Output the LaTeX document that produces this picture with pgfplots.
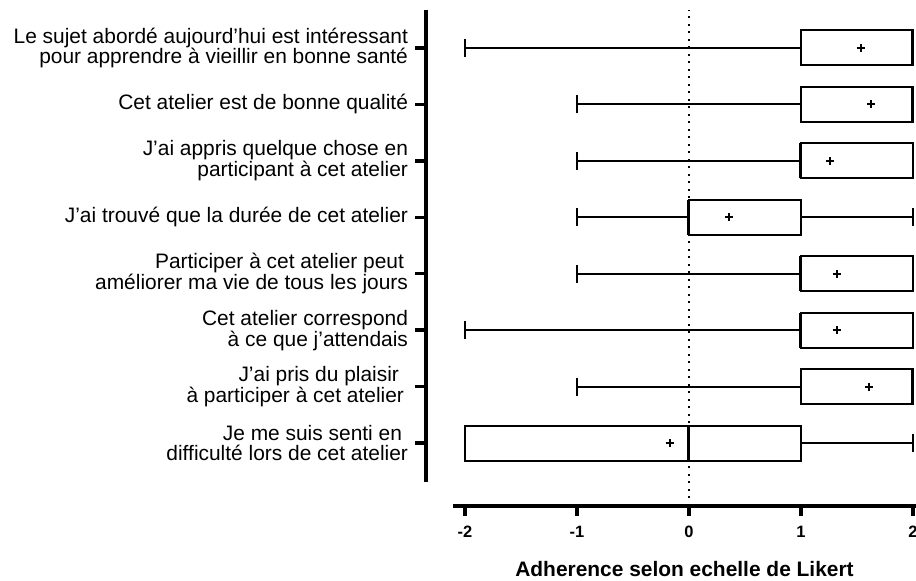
\documentclass[border=0pt]{standalone}
\usepackage{fontspec}
\setmainfont{Liberation Sans}
\usepackage{pgfplots}
\pgfplotsset{compat=1.18}
\usepgfplotslibrary{statistics}

\begin{document}
\begin{tikzpicture}
\begin{axis}[
  scale only axis, width=490bp, height=496bp,
  xmin=-2.348, xmax=2.027, ymin=-0.116, ymax=8.673,
  clip=false,
  axis line style={draw=none},
  tick pos=left,
  tick align=outside,
  major tick length=10.5bp,
  tick style={black, line width=3.5bp},
  xtick={-2,-1,0,1,2},
  xticklabels={-2,-1,0,1,2},
  xticklabel style={font=\bfseries\fontsize{16.5}{16.5}\selectfont, yshift=-6bp},
  ytick={1,2,3,4,5,6,7,8},
  yticklabels={
    {Je me suis senti en\hspace*{6bp}\\difficulté lors de cet atelier},
    {J’ai pris du plaisir\hspace*{9bp}\\à participer à cet atelier\hspace*{4bp}},
    {Cet atelier correspond\\à ce que j’attendais},
    {Participer à cet atelier peut\hspace*{4bp}\\améliorer ma vie de tous les jours},
    {J’ai trouvé que la durée de cet atelier},
    {J’ai appris quelque chose en\\participant à cet atelier},
    {Cet atelier est de bonne qualité},
    {Le sujet abordé aujourd’hui est intéressant\\pour apprendre à vieillir en bonne santé}},
  yticklabel style={align=right, font=\fontsize{21}{21}\selectfont, xshift=-4bp},
  xlabel={Adherence selon echelle de Likert},
  xlabel style={font=\bfseries\fontsize{21}{21}\selectfont,
    at={(axis description cs:0.5276,0)}, anchor=base, yshift=-71bp},
  boxplot/draw direction=x,
  boxplot/box extend=0.62,
  boxplot/whisker extend=0.32,
  boxplot/every median/.style={line width=3bp},
  box/.style={draw=black, fill=white, line width=2bp, solid, mark=none},
]
\coordinate (ll) at (rel axis cs:0,0);
\coordinate (ur) at (rel axis cs:1,1);

% reference line at zero
\addplot[black, line width=2bp, dash pattern=on 2bp off 5.5bp]
  coordinates {(0,-0.116) (0,8.673)};

% one box per statement (top row = position 8)
\addplot[box, boxplot prepared={lower whisker=-2, lower quartile=1,
  median=2, upper quartile=2, upper whisker=2, draw position=8}] coordinates {};
\addplot[box, boxplot prepared={lower whisker=-1, lower quartile=1,
  median=2, upper quartile=2, upper whisker=2, draw position=7}] coordinates {};
\addplot[box, boxplot prepared={lower whisker=-1, lower quartile=1,
  median=1, upper quartile=2, upper whisker=2, draw position=6}] coordinates {};
\addplot[box, boxplot prepared={lower whisker=-1, lower quartile=0,
  median=0, upper quartile=1, upper whisker=2, draw position=5}] coordinates {};
\addplot[box, boxplot prepared={lower whisker=-1, lower quartile=1,
  median=1, upper quartile=2, upper whisker=2, draw position=4}] coordinates {};
\addplot[box, boxplot prepared={lower whisker=-2, lower quartile=1,
  median=1, upper quartile=2, upper whisker=2, draw position=3}] coordinates {};
\addplot[box, boxplot prepared={lower whisker=-1, lower quartile=1,
  median=2, upper quartile=2, upper whisker=2, draw position=2}] coordinates {};
\addplot[box, boxplot prepared={lower whisker=-2, lower quartile=-2,
  median=0, upper quartile=1, upper whisker=2, draw position=1}] coordinates {};

% means
\addplot[only marks, mark=+, mark size=4bp, mark options={black, line width=2bp}]
  coordinates {(1.533,8) (1.625,7) (1.262,6) (0.357,5)
               (1.319,4) (1.319,3) (1.607,2) (-0.172,1)};

% offset axis lines
\draw[line width=3.5bp] (axis cs:-2.104,-0.116) -- (axis cs:2.027,-0.116);
\draw[line width=3.5bp] (axis cs:-2.348,0.309) -- (axis cs:-2.348,8.673);
\end{axis}
\pgfresetboundingbox
\path ([xshift=-426bp,yshift=-75bp]ll) rectangle ([yshift=10bp]ur);
\end{tikzpicture}
\end{document}
